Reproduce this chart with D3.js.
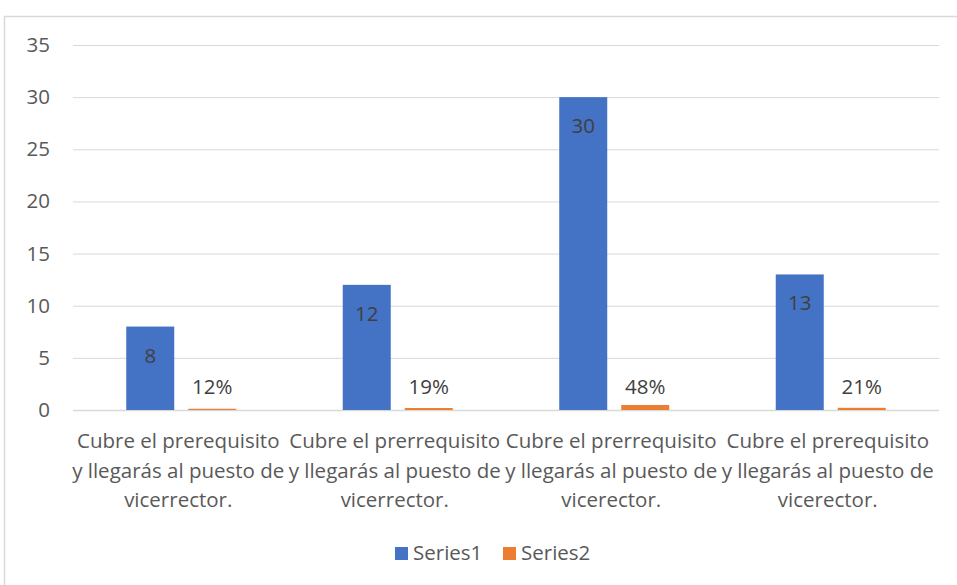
<!DOCTYPE html>
<html>
<head>
<meta charset="utf-8">
<script src="https://cdn.jsdelivr.net/npm/d3@7"></script>
<style>
  html, body { margin: 0; padding: 0; background: #fff; }
  svg { display: block; }
</style>
</head>
<body>
<svg id="chart" width="957" height="585"></svg>
<script>
// chart data
const categories = [
    ['Cubre el prerequisito', 'y llegarás al puesto de', 'vicerrector.'],
    ['Cubre el prerrequisito', 'y llegarás al puesto de', 'vicerrector.'],
    ['Cubre el prerrequisito', 'y llegarás al puesto de', 'vicerector.'],
    ['Cubre el prerequisito', 'y llegarás al puesto de', 'vicerector.']
];
const seriesNames = ['Series1', 'Series2'];
const series1 = [8, 12, 30, 13];
const series2 = [0.12, 0.19, 0.48, 0.21];
const yTicks = [0, 5, 10, 15, 20, 25, 30, 35];

const colors = { Series1: '#4472c4', Series2: '#ed7d31' };
const fontFamily = "'Open Sans', sans-serif";
const fontSize = 20.5;
const textColor = '#595959';
const gridColor = '#d9d9d9';

const svg = d3.select('#chart');

const margin = { left: 73, right: 18, top: 45, bottom: 175 };
const width = 957, height = 585;

// frame of the chart area (cut off at right and bottom)
svg.append('rect')
    .attr('x', 4.5)
    .attr('y', 16.5)
    .attr('width', 1000)
    .attr('height', 1000)
    .style('fill', 'none')
    .style('stroke', gridColor)
    .style('stroke-width', 1.5);

const y = d3.scaleLinear()
    .domain([0, 35])
    .range([height - margin.bottom, margin.top]);

const idx = d3.range(categories.length);
const x0 = d3.scaleBand()
    .domain(idx)
    .range([margin.left, width - margin.right]);

const groupWidth = 110;
const x1 = d3.scaleBand()
    .domain(seriesNames)
    .range([(x0.bandwidth() - groupWidth) / 2, (x0.bandwidth() + groupWidth) / 2])
    .paddingInner(0.226);

//gridlines
const yAxis = d3.axisLeft(y)
    .tickValues(yTicks)
    .tickSize(-(width - margin.left - margin.right))
    .tickPadding(23)
    .tickFormat(d3.format('d'));

const gAxis = svg.append('g')
    .attr('transform', 'translate(' + margin.left + ',0)')
    .call(yAxis);
gAxis.select('.domain').remove();
gAxis.selectAll('line')
    .style('stroke', gridColor)
    .style('stroke-width', d => d === 0 ? 1.5 : 1);
gAxis.selectAll('text')
    .attr('fill', textColor)
    .attr('font-family', fontFamily)
    .attr('font-size', fontSize);

//bars
const groups = svg.append('g')
    .selectAll('g')
    .data(idx)
    .join('g')
    .attr('transform', i => 'translate(' + x0(i) + ',0)');

groups.append('rect')
    .attr('x', x1('Series1'))
    .attr('y', i => y(series1[i]))
    .attr('width', x1.bandwidth())
    .attr('height', i => y(0) - y(series1[i]))
    .style('fill', colors.Series1);

groups.append('rect')
    .attr('x', x1('Series2'))
    .attr('y', i => y(series2[i]))
    .attr('width', x1.bandwidth())
    .attr('height', i => y(0) - y(series2[i]))
    .style('fill', colors.Series2);

//data labels
groups.append('text')
    .text(i => series1[i])
    .attr('x', x1('Series1') + x1.bandwidth() / 2)
    .attr('y', i => y(series1[i]) + 36)
    .attr('text-anchor', 'middle')
    .attr('fill', '#404040')
    .attr('font-family', fontFamily)
    .attr('font-size', fontSize);

// the percentage labels all sit on one line just above the axis
groups.append('text')
    .text(i => d3.format('.0%')(series2[i]))
    .attr('x', x1('Series2') + x1.bandwidth() / 2)
    .attr('y', y(0) - 16)
    .attr('text-anchor', 'middle')
    .attr('fill', '#404040')
    .attr('font-family', fontFamily)
    .attr('font-size', fontSize);

//category labels
const catText = groups.append('text')
    .attr('text-anchor', 'middle')
    .attr('fill', textColor)
    .attr('font-family', fontFamily)
    .attr('font-size', fontSize);
catText.selectAll('tspan')
    .data(i => categories[i])
    .join('tspan')
    .attr('x', x0.bandwidth() / 2 - 3)
    .attr('y', (d, j) => 448 + j * 29.5)
    .text(d => d);

//legend
const legend = svg.append('g')
    .attr('transform', 'translate(395,547)');
const legendItems = legend.selectAll('g')
    .data(seriesNames)
    .join('g')
    .attr('transform', (d, i) => 'translate(' + i * 108 + ',0)');
legendItems.append('rect')
    .attr('width', 13)
    .attr('height', 13)
    .style('fill', d => colors[d]);
legendItems.append('text')
    .text(d => d)
    .attr('x', 18)
    .attr('y', 13)
    .attr('fill', textColor)
    .attr('font-family', fontFamily)
    .attr('font-size', fontSize);
</script>
</body>
</html>
